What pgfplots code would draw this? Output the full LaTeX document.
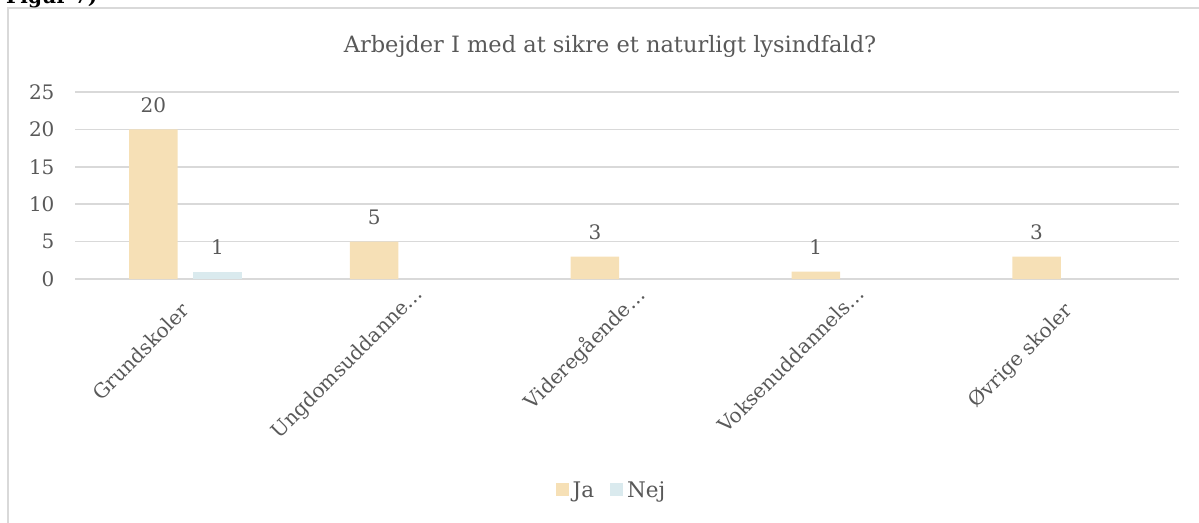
\documentclass[border=0pt]{standalone}
\usepackage{fontspec}
\setmainfont{DejaVu Serif}
\usepackage{pgfplots}
\pgfplotsset{compat=1.18}
\definecolor{ja}{HTML}{F6E0B6}
\definecolor{nej}{HTML}{DAEAEE}
\definecolor{txt}{HTML}{595959}
\definecolor{gridc}{HTML}{D9D9D9}
\newcommand{\full}[1]{#1\hspace{21pt}\rule{0pt}{\dimexpr0.76em+3pt\relax}}
\begin{document}
\begin{tikzpicture}[x=1pt,y=1pt]
\useasboundingbox (0,0) rectangle (1199,-522);
\draw[gridc, line width=2pt] (8,-540) -- (8,-8) -- (1220,-8);
\node[anchor=base west, font=\bfseries\fontsize{20}{24}\selectfont, inner sep=0] at (6,-3) {Figur 7)};
\node[txt, font=\fontsize{22.5}{26}\selectfont] at (610,-46) {Arbejder I med at sikre et naturligt lysindfald?};
\begin{axis}[
  at={(75pt,-279pt)}, anchor=south west, scale only axis,
  width=1104pt, height=187pt,
  xmin=-0.5, xmax=4.5, ymin=0, ymax=25,
  /pgf/number format/assume math mode=true,
  ytick={0,5,...,25}, xtick={0,1,2,3,4},
  xticklabels={\full{Grundskoler}, Ungdomsuddanne…, Videregående…, Voksenuddannels…, \full{Øvrige skoler}},
  axis line style={draw=none}, tick style={draw=none},
  ymajorgrids, grid style={gridc, line width=1.5pt},
  tick label style={txt, font=\fontsize{20}{23}\selectfont},
  yticklabel style={xshift=-17pt},
  xticklabel style={xshift=7pt, yshift=-5pt, inner sep=0pt, rotate=45, anchor=north east},
  every node near coord/.append style={anchor=center, yshift=24pt, txt, font=\fontsize{20}{23}\selectfont},
  legend style={draw=none, at={(0.486,-1.128)}, anchor=center, legend columns=2,
    font=\fontsize{21.5}{24}\selectfont, text=txt,
    /tikz/every even column/.append style={column sep=14pt}},
  legend image code/.code={\fill[#1] (0pt,-6.5pt) rectangle (13pt,6.5pt); \path (15pt,0pt);},
]
\addplot[ybar, bar width=48.5pt, bar shift=-32pt, fill=ja, draw=none, nodes near coords,
  every node near coord/.append style={xshift=-32pt}]
  coordinates {(0,20) (1,5) (2,3) (3,1) (4,3)};
\addlegendentry{Ja}
\addplot[ybar, bar width=48.5pt, bar shift=32pt, fill=nej, draw=none, nodes near coords,
  every node near coord/.append style={xshift=32pt}]
  coordinates {(0,1)};
\addlegendentry{Nej}
\end{axis}
\end{tikzpicture}
\end{document}
